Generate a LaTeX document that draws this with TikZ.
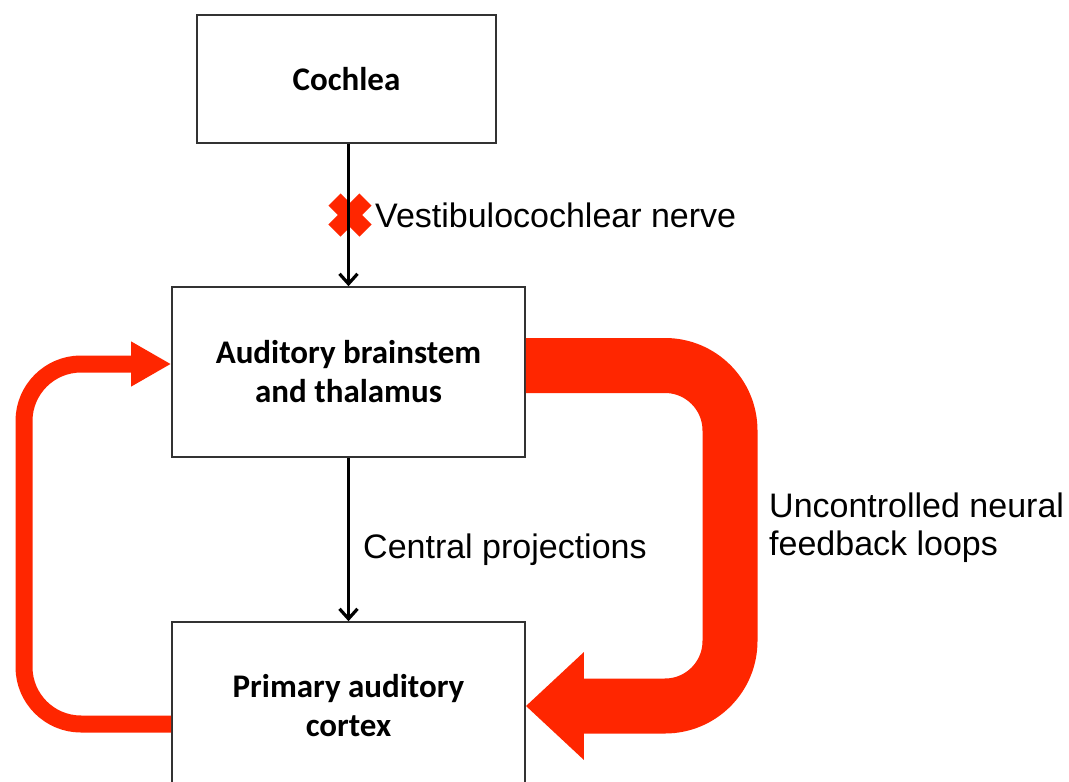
\documentclass[tikz,border=0pt]{standalone}
\usepackage{fontspec}
\newfontfamily\boxfont{Carlito}
\newfontfamily\lblfont{Liberation Sans}
\usetikzlibrary{arrows.meta,calc}
\definecolor{fbred}{RGB}{255,38,0}
\definecolor{boxline}{RGB}{50,50,50}
\begin{document}
\begin{tikzpicture}[x=1pt,y=-1pt,
  box/.style={draw=boxline,line width=1.6pt,fill=white,align=center,
    font=\boxfont\bfseries\fontsize{33}{39}\selectfont,inner sep=0pt},
  lbl/.style={font=\lblfont\fontsize{34}{38}\selectfont,inner sep=0pt,align=left},
  blk/.style={line width=3.2pt,-{Straight Barb[length=10pt,width=18pt]}},
  redthick/.style={fbred,line width=55pt,rounded corners=65pt,
    -{Triangle[length=58pt,width=104pt]}},
  redthin/.style={fbred,line width=17pt,rounded corners=57pt,
    -{Triangle[length=40pt,width=42pt]}},
  xbar/.style={fbred,line width=17pt}
]
\useasboundingbox (0,0) rectangle (1069,782);
\clip (0,0) rectangle (1069,782);
\fill[white] (0,0) rectangle (1069,782);

% boxes
\node[box,minimum width=299pt,minimum height=128pt] (co) at (346.5,79) {Cochlea};
\node[box,minimum width=353pt,minimum height=170pt] (bs) at (348.5,372) {Auditory brainstem\\and thalamus};
\node[box,minimum width=353pt,minimum height=168pt] (cx) at (348.5,706) {Primary auditory\\cortex};

% red cross
\coordinate (xm) at (350,215);
\draw[xbar] ($(xm)+(-15.5,-15.5)$) -- ($(xm)+(15.5,15.5)$);
\draw[xbar] ($(xm)+(-15.5,15.5)$) -- ($(xm)+(15.5,-15.5)$);

% black arrows
\draw[blk] (co.south -| bs.north) -- (bs.north);
\draw[blk] (bs.south) -- (cx.north);

% red feedback arrows
\coordinate (bsout) at ([yshift=6.5pt]bs.east);
\coordinate (cxin) at (cx.east);
\coordinate (rc) at (730,0);
\draw[redthick] (bsout) -| (rc |- cxin) -- (cxin);

\coordinate (bsin) at ([yshift=8pt]bs.west);
\coordinate (cxout) at ([yshift=-18pt]cx.west);
\coordinate (lc) at (24,0);
\draw[redthin] (cxout) -| (lc |- bsin) -- (bsin);

% labels
\node[lbl,anchor=base west] (vn) at (375,227) {Vestibulocochlear nerve};
\node[lbl,anchor=base west] (cp) at (363,558) {Central projections};
\node[lbl,anchor=west] (fb) at (769,528) {Uncontrolled neural\\feedback loops};
\end{tikzpicture}
\end{document}
